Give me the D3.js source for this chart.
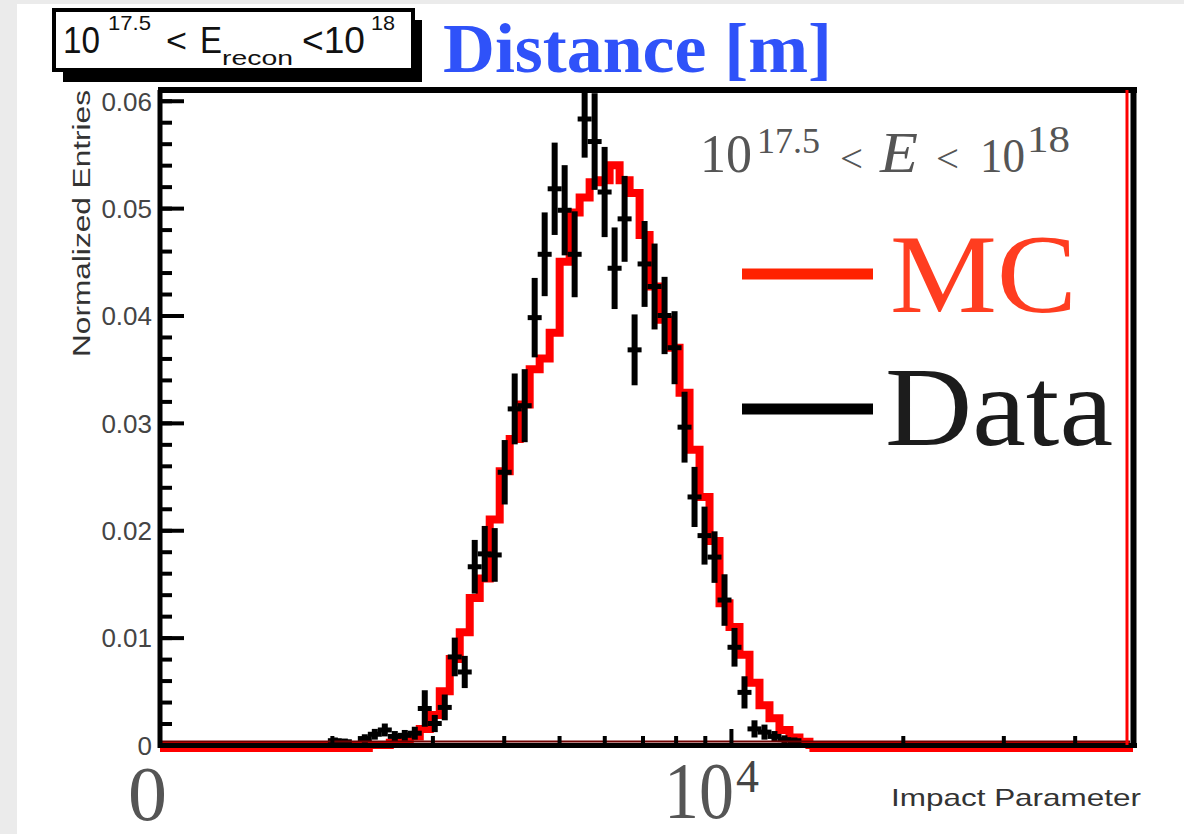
<!DOCTYPE html>
<html><head><meta charset="utf-8">
<script src="https://cdn.jsdelivr.net/npm/d3@7"></script>
<style>html,body{margin:0;padding:0;background:#ebebeb;overflow:hidden} svg{display:block}</style>
</head><body>
<svg id="c" width="1184" height="834"></svg>
<script>
// ---- histogram binning (log10 of impact parameter) ----
const binLog0 = 3.0;
const binLogStep = 0.0175;
const nBins = 97;

// ---- MC (red histogram), normalized entries, starting at bin index mcFirstBin ----
const mcFirstBin = 23;
const mcValues = [0.0002,0.0005,0.0008,0.0015,0.0028,0.005,0.008,0.0105,0.0137,0.0155,
  0.021,0.0255,0.0285,0.0317,0.035,0.036,0.0384,0.045,0.0496,0.051,
  0.0524,0.0526,0.054,0.0526,0.0514,0.0475,0.0427,0.0396,0.037,0.0328,
  0.0275,0.0231,0.019,0.0132,0.011,0.0084,0.0058,0.0037,0.0025,0.0014,
  0.0007,0.0003];

// ---- Data (black points with errors), starting at bin index dataFirstBin ----
const dataFirstBin = 17;
const dataValues = [0.0004,0.0003,null,0.0006,0.0010,0.0014,0.0008,0.0009,0.0011,0.0034,
  0.0020,0.0035,0.0082,0.0068,0.0166,0.0178,0.0177,0.0254,0.0313,0.0316,
  0.0398,0.0457,0.0518,0.0498,0.0457,0.0583,0.0562,0.0515,0.0444,0.049,
  0.0368,0.0448,0.0427,0.040,0.037,0.0296,0.0231,0.0195,0.0175,0.0135,
  0.0091,0.0049,0.0015,0.0012,0.0008,0.0005,0.0004];
const dataErrors = [0.0003,0.0003,null,0.0004,0.0005,0.0006,0.0005,0.0005,0.0006,0.0017,
  0.0008,0.0012,0.0018,0.0015,0.0025,0.0026,0.0025,0.003,0.0033,0.0034,
  0.0037,0.0039,0.0043,0.0042,0.004,0.0036,0.0045,0.0042,0.0038,0.004,
  0.0033,0.004,0.004,0.0036,0.0034,0.0033,0.0028,0.0027,0.0024,0.0024,
  0.0018,0.0015,0.0008,0.0007,0.0005,0.0004,0.0003];

// ---- axes ----
const xDomain = [1000, 50000];
const yDomain = [0, 0.061];
const yMajorTicks = [0, 0.01, 0.02, 0.03, 0.04, 0.05, 0.06];
const yMinorTicks = d3.range(0, 0.0605, 0.002);
const xMinorTicks = [2000,3000,4000,5000,6000,7000,8000,9000,20000,30000,40000];
const xMajorTicks = [10000];

const svg = d3.select('#c');
svg.append('rect').attr('x',0).attr('y',0).attr('width',1184).attr('height',834).attr('fill','#ebebeb');
svg.append('rect').attr('x',17).attr('y',4).attr('width',1167).attr('height',830).attr('fill','#ffffff');

const L = 160, R = 1130, T = 90, B = 745;
const x = d3.scaleLog().domain(xDomain).range([L, R]);
const y = d3.scaleLinear().domain(yDomain).range([B, T]);
const edge = k => Math.pow(10, binLog0 + k * binLogStep);

svg.append('defs').append('clipPath').attr('id','clip')
  .append('rect').attr('x',L).attr('y',T).attr('width',R-L).attr('height',B-T+6);
const plot = svg.append('g').attr('clip-path','url(#clip)');

// MC histogram
const mcAll = d3.range(nBins).map(k => {
  const i = k - mcFirstBin;
  return (i >= 0 && i < mcValues.length) ? mcValues[i] : 0;
});
const mcPts = mcAll.map((v,k) => [edge(k), v]);
mcPts.push([xDomain[1], 0]);
const stepLine = d3.line().x(d => x(d[0])).y(d => y(d[1])).curve(d3.curveStepAfter);
plot.append('path').datum(mcPts).attr('d', stepLine)
  .attr('fill','none').attr('stroke','#ff0000').attr('stroke-width',8).attr('stroke-linejoin','miter');

// data points
const pts = dataValues.map((v,i) => ({k: i + dataFirstBin, v, e: dataErrors[i]})).filter(d => d.v !== null);
const dg = plot.append('g');
dg.selectAll('line.h').data(pts).join('line').attr('class','h')
  .attr('x1', d => x(edge(d.k)) - 2).attr('x2', d => x(edge(d.k+1)) + 2)
  .attr('y1', d => y(d.v)).attr('y2', d => y(d.v))
  .attr('stroke','#000').attr('stroke-width',5);
dg.selectAll('line.v').data(pts).join('line').attr('class','v')
  .attr('x1', d => x(Math.sqrt(edge(d.k)*edge(d.k+1)))).attr('x2', d => x(Math.sqrt(edge(d.k)*edge(d.k+1))))
  .attr('y1', d => y(Math.max(0, d.v - d.e))).attr('y2', d => y(d.v + d.e))
  .attr('stroke','#000').attr('stroke-width',6);

// axis base lines
svg.append('line').attr('x1',L).attr('x2',R).attr('y1',B-3.5).attr('y2',B-3.5).attr('stroke','#700000').attr('stroke-width',2);
// red underline where MC is zero
const firstNZ = mcAll.findIndex(v => v > 0);
let lastNZ = mcAll.length - 1; while (lastNZ > 0 && mcAll[lastNZ] === 0) lastNZ--;
[[xDomain[0], edge(firstNZ - 2)], [edge(lastNZ + 1), xDomain[1]]].forEach(s => {
  svg.append('line').attr('x1', x(s[0])).attr('x2', x(s[1]) + 3).attr('y1', B+5).attr('y2', B+5)
    .attr('stroke','#ff0000').attr('stroke-width',4);
});
svg.append('line').attr('x1',L-2).attr('x2',R+7).attr('y1',B+0.5).attr('y2',B+0.5).attr('stroke','#000').attr('stroke-width',5);

// frame
svg.append('line').attr('x1',L).attr('x2',L).attr('y1',T).attr('y2',B+3).attr('stroke','#000').attr('stroke-width',5);
svg.append('line').attr('x1',L-2).attr('x2',R+7).attr('y1',T).attr('y2',T).attr('stroke','#000').attr('stroke-width',6);
svg.append('line').attr('x1',R-3).attr('x2',R-3).attr('y1',T).attr('y2',B).attr('stroke','#ff0000').attr('stroke-width',3);
svg.append('line').attr('x1',R+3.5).attr('x2',R+3.5).attr('y1',T-3).attr('y2',B+3).attr('stroke','#000').attr('stroke-width',6);

// y axis
const yMinorAxis = d3.axisLeft(y).tickValues(yMinorTicks).tickSize(-12).tickFormat('');
const gyMinor = svg.append('g').attr('transform',`translate(${L},0)`).call(yMinorAxis);
gyMinor.select('.domain').remove();
gyMinor.selectAll('.tick line').attr('stroke','#000').attr('stroke-width',4);

const yMajorAxis = d3.axisLeft(y).tickValues(yMajorTicks).tickSizeInner(-24).tickSizeOuter(0).tickPadding(8)
  .tickFormat(d => d === 0 ? '0' : d3.format('.2f')(d));
const gy = svg.append('g').attr('transform',`translate(${L},0)`).call(yMajorAxis);
gy.select('.domain').remove();
gy.selectAll('.tick line').attr('stroke','#000').attr('stroke-width',4);
gy.selectAll('.tick text').attr('font-family','"Liberation Sans", Arial, sans-serif')
  .attr('font-size',26).attr('fill','#444').attr('dy','0.36em');

// x axis (ticks upward)
const gxMinor = svg.append('g').attr('transform',`translate(0,${B})`)
  .call(d3.axisBottom(x).tickValues(xMinorTicks).tickSize(-9).tickFormat(''));
gxMinor.select('.domain').remove();
gxMinor.selectAll('.tick line').attr('stroke','#000').attr('stroke-width',4);
const gxMajor = svg.append('g').attr('transform',`translate(0,${B})`)
  .call(d3.axisBottom(x).tickValues(xMajorTicks).tickSize(-16).tickFormat(''));
gxMajor.select('.domain').remove();
gxMajor.selectAll('.tick line').attr('stroke','#000').attr('stroke-width',4);

// axis titles
svg.append('text').attr('transform','translate(90,357) rotate(-90)')
  .attr('font-family','"Liberation Sans", Arial, sans-serif').attr('font-size',23).attr('fill','#333')
  .attr('textLength',267).attr('lengthAdjust','spacingAndGlyphs').text('Normalized Entries');
svg.append('text').attr('x',891).attr('y',806)
  .attr('font-family','"Liberation Sans", Arial, sans-serif').attr('font-size',24).attr('fill','#333')
  .attr('textLength',250).attr('lengthAdjust','spacingAndGlyphs').text('Impact Parameter');

// overlay axis numbers (serif)
const serif = '"Liberation Serif", "Times New Roman", serif';
svg.append('text').attr('x',128).attr('y',820).attr('font-family',serif).attr('font-size',78).attr('fill','#555').text('0');
svg.append('text').attr('x',664).attr('y',818).attr('font-family',serif).attr('font-size',80).attr('fill','#555')
  .attr('textLength',70).attr('lengthAdjust','spacingAndGlyphs').text('10');
svg.append('text').attr('x',736).attr('y',792).attr('font-family',serif).attr('font-size',46).attr('fill','#444').text('4');

// top-left energy box
svg.append('rect').attr('x',63).attr('y',20).attr('width',359).attr('height',62).attr('fill','#000');
svg.append('rect').attr('x',54).attr('y',10).attr('width',359).attr('height',60).attr('fill','#fff')
  .attr('stroke','#000').attr('stroke-width',4);
const sans = '"Liberation Sans", Arial, sans-serif';
const boxText = [
  {t:'10', x:63, y:53, s:36, w:37},
  {t:'17.5', x:108, y:30, s:21, w:43},
  {t:'<', x:166, y:52, s:34, w:21},
  {t:'E', x:200, y:53, s:36, w:22},
  {t:'recon', x:222, y:65, s:20, w:71},
  {t:'<10', x:302, y:53, s:36, w:63},
  {t:'18', x:371, y:30, s:21, w:24}
];
svg.append('g').selectAll('text').data(boxText).join('text')
  .attr('x', d => d.x).attr('y', d => d.y).attr('font-family', sans).attr('font-size', d => d.s)
  .attr('fill','#111').attr('textLength', d => d.w).attr('lengthAdjust','spacingAndGlyphs').text(d => d.t);

// blue title
svg.append('text').attr('x',443).attr('y',72).attr('font-family',serif).attr('font-weight','bold')
  .attr('font-size',70).attr('fill','#2f52f9').attr('textLength',389).attr('lengthAdjust','spacingAndGlyphs')
  .text('Distance [m]');

// energy range label
const eText = [
  {t:'10', x:700, y:172, s:54, w:52, it:false},
  {t:'17.5', x:757, y:153, s:35, w:63, it:false},
  {t:'<', x:840, y:172, s:40, w:23, it:false},
  {t:'E', x:880, y:172, s:56, w:38, it:true},
  {t:'<', x:936, y:172, s:40, w:23, it:false},
  {t:'10', x:980, y:172, s:48, w:45, it:false},
  {t:'18', x:1027, y:152, s:38, w:43, it:false}
];
svg.append('g').selectAll('text').data(eText).join('text')
  .attr('x', d => d.x).attr('y', d => d.y).attr('font-family', serif).attr('font-size', d => d.s)
  .attr('font-style', d => d.it ? 'italic' : 'normal')
  .attr('fill','#555').attr('textLength', d => d.w).attr('lengthAdjust','spacingAndGlyphs').text(d => d.t);

// legend
const legend = [
  {name:'MC', lineColor:'#ff2200', textColor:'#ff3d20', ly:274, tx:890, ty:312, w:187},
  {name:'Data', lineColor:'#000000', textColor:'#1c1c1c', ly:409, tx:885, ty:445, w:228}
];
const lg = svg.append('g');
lg.selectAll('line').data(legend).join('line')
  .attr('x1',742).attr('x2',873).attr('y1', d => d.ly).attr('y2', d => d.ly)
  .attr('stroke', d => d.lineColor).attr('stroke-width',11);
lg.selectAll('text').data(legend).join('text')
  .attr('x', d => d.tx).attr('y', d => d.ty).attr('font-family', serif).attr('font-size',113)
  .attr('fill', d => d.textColor).attr('textLength', d => d.w).attr('lengthAdjust','spacingAndGlyphs')
  .text(d => d.name);
</script>
</body></html>
